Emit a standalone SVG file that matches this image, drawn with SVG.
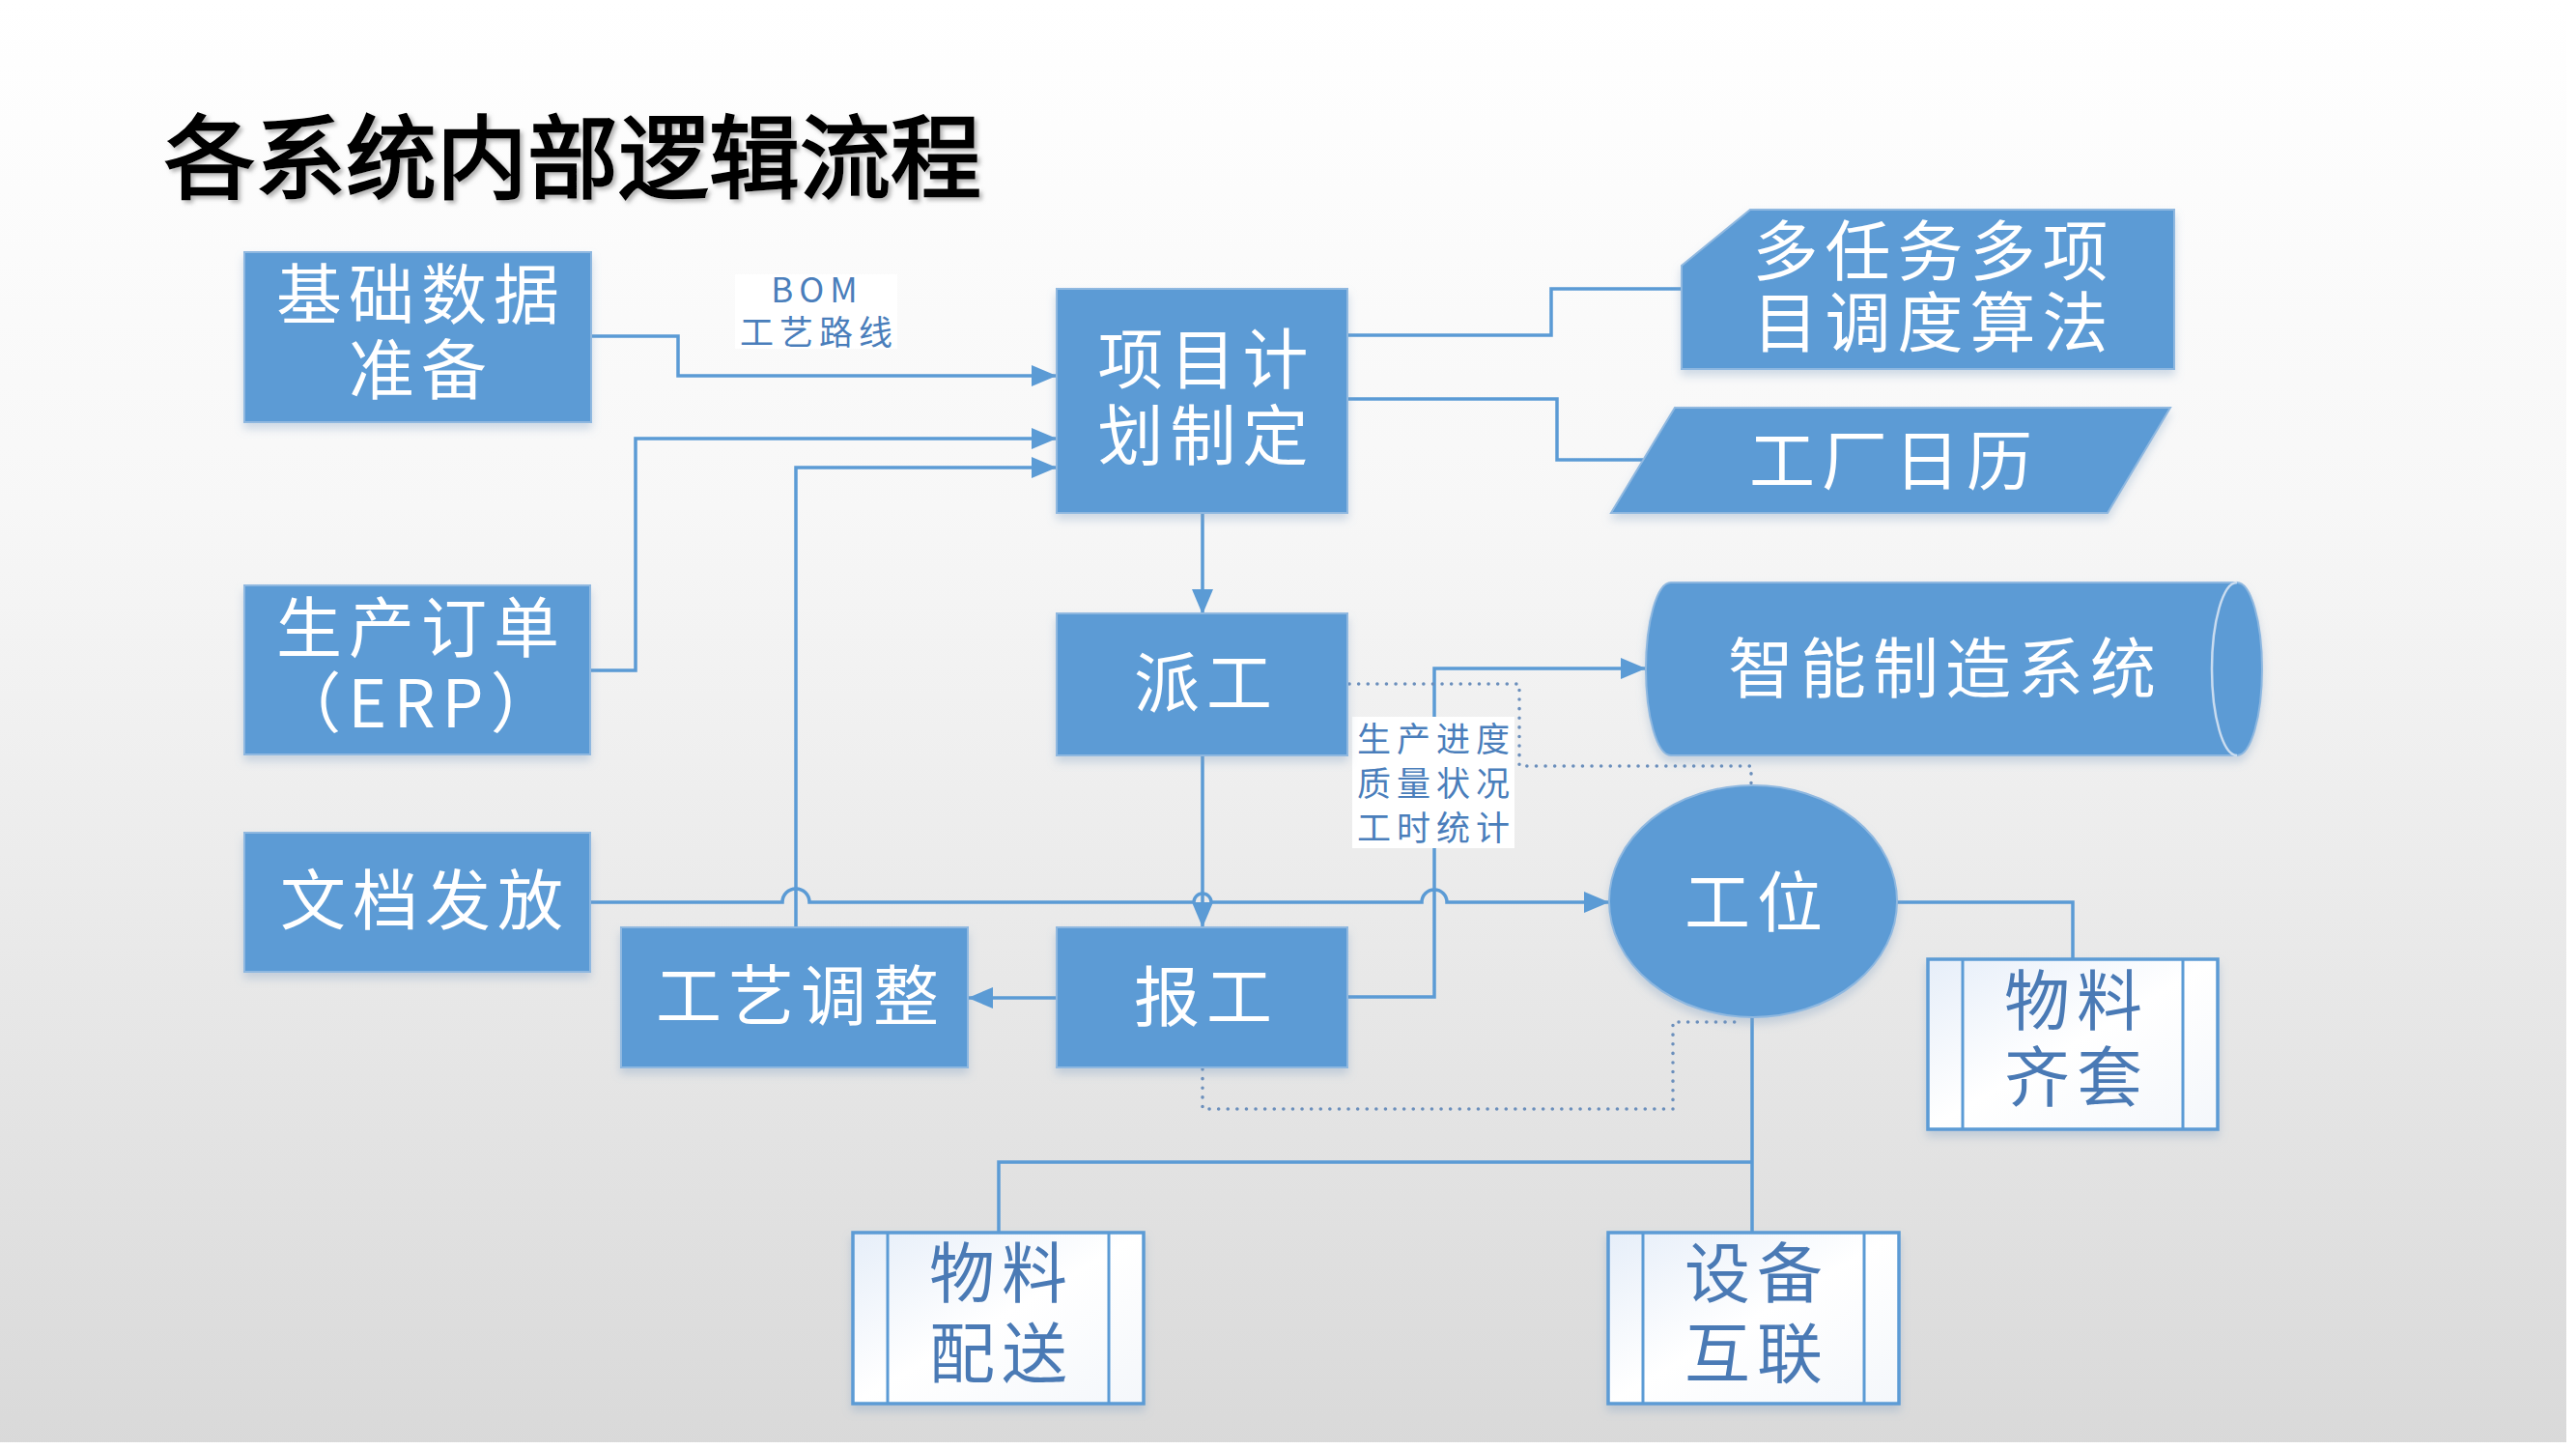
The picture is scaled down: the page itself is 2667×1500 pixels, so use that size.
<svg xmlns="http://www.w3.org/2000/svg" width="2667" height="1500" viewBox="0 0 2667 1500">
<defs>
  <linearGradient id="bg" x1="0" y1="0" x2="0" y2="1">
    <stop offset="0" stop-color="#ffffff"/>
    <stop offset="0.35" stop-color="#f7f7f7"/>
    <stop offset="1" stop-color="#d9d9d9"/>
  </linearGradient>
  <linearGradient id="pre" x1="0" y1="0" x2="1" y2="1">
    <stop offset="0" stop-color="#e6eef9"/>
    <stop offset="0.5" stop-color="#ffffff"/>
    <stop offset="1" stop-color="#f4f7fb"/>
  </linearGradient>
  <filter id="sh" x="-10%" y="-10%" width="120%" height="130%">
    <feDropShadow dx="0" dy="6" stdDeviation="5" flood-color="#7d9cc0" flood-opacity="0.35"/>
  </filter>
  <filter id="tsh" x="-5%" y="-10%" width="110%" height="130%">
    <feDropShadow dx="3" dy="3" stdDeviation="2" flood-color="#777777" flood-opacity="0.55"/>
  </filter>
  <marker id="arr" viewBox="0 0 26 22" refX="26" refY="11" markerWidth="26" markerHeight="22" markerUnits="userSpaceOnUse" orient="auto">
    <path d="M0,0 L26,11 L0,22 Z" fill="#5b9bd5"/>
  </marker>
  <style>
    .box { fill: #5b9bd5; stroke: #8fb8e0; stroke-width: 2; filter: url(#sh); }
    .pre { fill: url(#pre); stroke: #5b9bd5; stroke-width: 3.5; filter: url(#sh); }
    .inner { fill: none; stroke: #5b9bd5; stroke-width: 3; }
    .t { font-family: "Noto Sans CJK SC", "Noto Sans", sans-serif; font-size: 68px; fill: #ffffff; text-anchor: middle; letter-spacing: 7px; }
    .td { font-family: "Noto Sans CJK SC", "Noto Sans", sans-serif; font-size: 68px; fill: #4a7ab5; text-anchor: middle; letter-spacing: 7px; }
    .lbl { font-family: "Noto Sans CJK SC", "Noto Sans", sans-serif; font-size: 35px; fill: #4a7ebb; text-anchor: middle; letter-spacing: 6px; }
    .ln { fill: none; stroke: #5b9bd5; stroke-width: 3.5; }
    .dot { fill: none; stroke: #6b8fbc; stroke-width: 3.5; stroke-linecap: round; stroke-dasharray: 0.1 9.5; }
  </style>
</defs>

<rect x="0" y="0" width="2667" height="1500" fill="url(#bg)"/>
<rect x="2657" y="0" width="10" height="1500" fill="#ffffff"/>
<rect x="0" y="1493" width="2667" height="7" fill="#ffffff"/>

<text x="170" y="198" font-family="Noto Sans CJK SC, sans-serif" font-size="94" fill="#000000" stroke="#000000" stroke-width="2.5" filter="url(#tsh)">各系统内部逻辑流程</text>

<g id="connectors">
  <path class="ln" d="M612,348 H702 V389 H1094" marker-end="url(#arr)"/>
  <path class="ln" d="M611,694 H658 V454 H1094" marker-end="url(#arr)"/>
  <path class="ln" d="M824,960 V484 H1094" marker-end="url(#arr)"/>
  <path class="ln" d="M1395,347 H1606 V299 H1741"/>
  <path class="ln" d="M1395,413 H1612 V476 H1701"/>
  <path class="ln" d="M1245,531 V636" marker-end="url(#arr)"/>
  <path class="ln" d="M1245,782 V960" marker-end="url(#arr)"/>
  <path class="ln" d="M611,934 H810 A14,14 0 0 1 838,934 H1236 A9,9 0 0 1 1254,934 H1472 A13,13 0 0 1 1498,934 H1666" marker-end="url(#arr)"/>
  <path class="ln" d="M1395,1032 H1485 V692 H1704" marker-end="url(#arr)"/>
  <path class="ln" d="M1094,1033 H1002" marker-end="url(#arr)"/>
  <path class="ln" d="M1964,934 H2146 V993"/>
  <path class="ln" d="M1814,1053 V1276"/>
  <path class="ln" d="M1814,1203 H1034 V1276"/>
  <path class="dot" d="M1397,708 H1573 V793 H1813 V813"/>
  <path class="dot" d="M1245,1107 V1148 H1732 V1058 H1800"/>
</g>

<g id="label-bom">
  <rect x="761" y="284" width="168" height="77" fill="#ffffff"/>
  <text class="lbl" x="846" y="313" font-size="32" letter-spacing="2">BOM</text>
  <text class="lbl" x="848" y="357">工艺路线</text>
</g>

<g id="label-progress">
  <rect x="1400" y="742" width="168" height="136" fill="#ffffff"/>
  <text class="lbl" x="1487" y="778">生产进度</text>
  <text class="lbl" x="1487" y="824">质量状况</text>
  <text class="lbl" x="1487" y="870">工时统计</text>
</g>

<g id="node-jichu">
  <rect class="box" x="253" y="261" width="359" height="176"/>
  <text class="t" x="436" y="330">基础数据</text>
  <text class="t" x="436" y="408">准备</text>
</g>

<g id="node-order">
  <rect class="box" x="253" y="606" width="358" height="175"/>
  <text class="t" x="436" y="675">生产订单</text>
  <text class="t" x="434" y="753" letter-spacing="0">（ERP）</text>
</g>

<g id="node-doc">
  <rect class="box" x="253" y="862" width="358" height="144"/>
  <text class="t" x="440" y="957">文档发放</text>
</g>

<g id="node-craft">
  <rect class="box" x="643" y="960" width="359" height="145"/>
  <text class="t" x="829" y="1056">工艺调整</text>
</g>

<g id="node-plan">
  <rect class="box" x="1094" y="299" width="301" height="232"/>
  <text class="t" x="1249" y="397">项目计</text>
  <text class="t" x="1249" y="476">划制定</text>
</g>

<g id="node-dispatch">
  <rect class="box" x="1094" y="635" width="301" height="147"/>
  <text class="t" x="1249" y="732">派工</text>
</g>

<g id="node-report">
  <rect class="box" x="1094" y="960" width="301" height="145"/>
  <text class="t" x="1249" y="1057">报工</text>
</g>

<g id="node-algo">
  <path class="box" d="M1812,217 H2251 V382 H1741 V275 Z"/>
  <text class="t" x="2002" y="285">多任务多项</text>
  <text class="t" x="2002" y="359">目调度算法</text>
</g>

<g id="node-calendar">
  <path class="box" d="M1734,422 H2247 L2182,531 H1668 Z"/>
  <text class="t" x="1961" y="502">工厂日历</text>
</g>

<g id="node-ims">
  <path class="box" d="M1730,603 H2316 A26,89.5 0 0 1 2316,782 H1730 A26,89.5 0 0 1 1730,603 Z"/>
  <path d="M2316,603 A26,89.5 0 0 0 2316,782" fill="none" stroke="#c9dcf0" stroke-width="2.5"/>
  <text class="t" x="2014" y="717">智能制造系统</text>
</g>

<g id="node-station">
  <ellipse class="box" cx="1815" cy="933" rx="149" ry="120"/>
  <text class="t" x="1819" y="959">工位</text>
</g>

<g id="node-kit">
  <rect class="pre" x="1996" y="993" width="300" height="176"/>
  <line class="inner" x1="2032" y1="993" x2="2032" y2="1169"/>
  <line class="inner" x1="2260" y1="993" x2="2260" y2="1169"/>
  <text class="td" x="2150" y="1061">物料</text>
  <text class="td" x="2150" y="1140">齐套</text>
</g>

<g id="node-delivery">
  <rect class="pre" x="883" y="1276" width="301" height="177"/>
  <line class="inner" x1="919" y1="1276" x2="919" y2="1453"/>
  <line class="inner" x1="1148" y1="1276" x2="1148" y2="1453"/>
  <text class="td" x="1037" y="1343">物料</text>
  <text class="td" x="1037" y="1426">配送</text>
</g>

<g id="node-device">
  <rect class="pre" x="1665" y="1276" width="301" height="177"/>
  <line class="inner" x1="1701" y1="1276" x2="1701" y2="1453"/>
  <line class="inner" x1="1930" y1="1276" x2="1930" y2="1453"/>
  <text class="td" x="1819" y="1343">设备</text>
  <text class="td" x="1819" y="1426">互联</text>
</g>
</svg>
